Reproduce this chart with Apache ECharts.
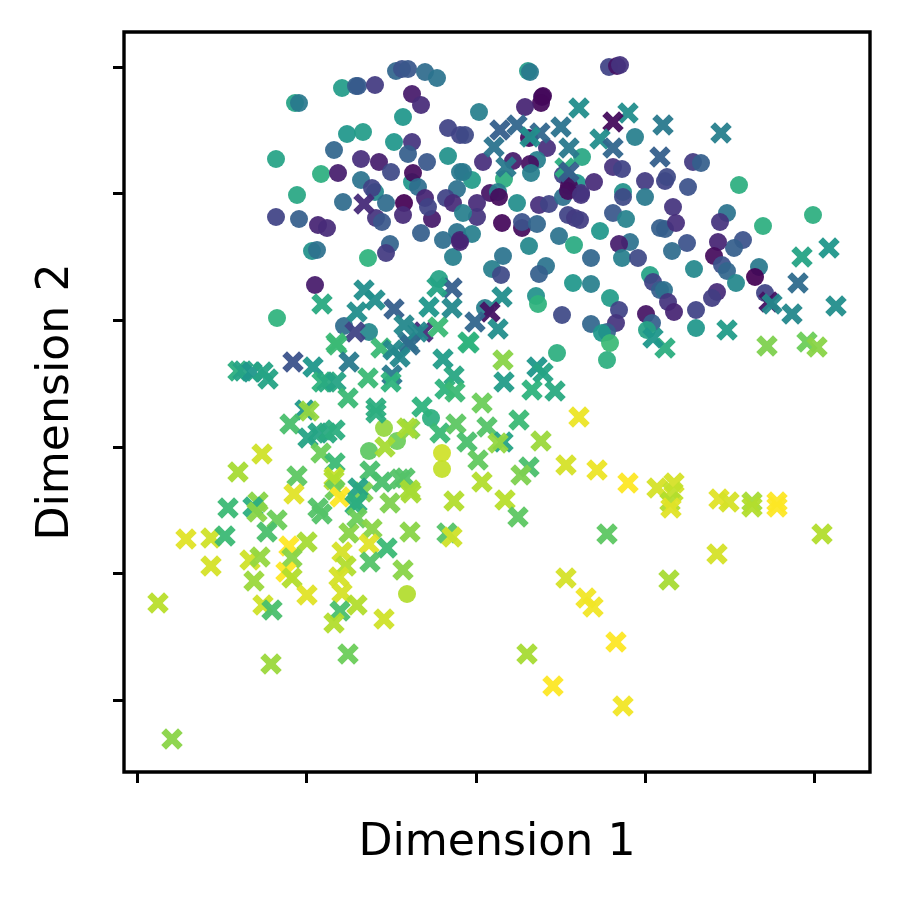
<!DOCTYPE html>
<html><head><meta charset="utf-8">
<script src="https://cdn.jsdelivr.net/npm/echarts@6/dist/echarts.min.js"></script>
<style>html,body{margin:0;background:#fff}#c{width:902px;height:897px}</style></head>
<body><div id="c"></div>
<script>
// each row: dimension 1, dimension 2, colour value (0-1)
const circlePoints = [
[342,712,.52],[356,714,.3],[358,714,.28],[375,715,.17],[396,729,.33],[402,731,.25],[408,731,.27],[425,728,.35],[437,722,.38],
[295,697,.55],[299,697,.4],[412,706,.07],[421,695,.12],[403,683,.5],[448,672,.2],[460,665,.2],[347,666,.5],[363,668,.52],
[394,658,.5],[412,658,.15],[408,646,.3],[334,650,.33],[361,641,.13],[379,638,.08],[427,638,.27],[448,644,.48],[276,641,.55],
[321,626,.6],[338,627,.08],[361,620,.38],[391,628,.22],[412,618,.5],[413,627,.03],[418,613,.36],[375,608,.45],[372,612,.2],
[297,605,.57],[460,628,.4],[457,611,.37],[425,602,.1],[404,597,.0],[446,602,.2],[453,597,.12],[386,597,.35],[343,598,.35],
[276,583,.2],[299,581,.3],[318,575,.1],[327,572,.12],[403,585,.12],[376,582,.15],[382,578,.27],[432,581,.07],[428,593,.2],
[421,567,.3],[312,549,.48],[317,550,.37],[390,556,.32],[386,547,.17],[368,542,.62],[315,515,.07],[277,482,.62],[443,560,.36],
[457,568,.38],[460,560,.1],[453,543,.42],[439,521,.55],[344,474,.35],[369,468,.45],
[528,729,.52],[530,728,.4],[609,733,.2],[617,734,.05],[620,735,.15],[542,703,.08],[543,704,.02],[541,697,.02],[525,693,.1],
[479,688,.42],[465,665,.22],[635,663,.42],[547,652,.13],[537,640,.42],[529,662,.02],[513,639,.07],[530,636,.04],[531,627,.42],
[483,638,.13],[472,620,.52],[463,628,.4],[504,621,.6],[582,643,.57],[563,625,.2],[577,617,.5],[569,614,.03],[594,618,.12],
[581,607,.15],[613,633,.14],[622,631,.2],[645,619,.17],[623,608,.48],[623,603,.22],[645,603,.4],[665,619,.2],
[490,607,.05],[498,608,.42],[499,603,.03],[517,597,.47],[477,597,.12],[477,583,.15],[463,587,.42],[472,566,.42],[460,558,.1],
[502,577,.02],[522,572,.03],[522,578,.25],[537,576,.33],[539,595,.13],[549,596,.2],[563,603,.37],[568,609,.03],[581,605,.15],
[568,585,.2],[575,582,.17],[580,580,.18],[559,564,.38],[529,554,.45],[574,555,.58],[600,569,.5],[591,542,.33],[613,587,.27],
[626,581,.43],[630,558,.37],[619,556,.08],[622,542,.42],[638,542,.22],[660,572,.3],[503,544,.38],[492,531,.42],[501,525,.22],
[546,534,.38],[539,526,.3],[573,517,.5],[591,516,.42],[650,525,.55],[653,518,.2],[660,510,.3],[610,502,.52],[619,490,.2],
[616,477,.15],[591,476,.33],[607,468,.3],[602,467,.5],[610,457,.65],[562,485,.22],[536,504,.48],[538,496,.62],[485,492,.42],
[646,486,.05],[652,477,.3],[647,470,.55],[557,447,.6],
[693,638,.17],[701,637,.3],[667,623,.22],[688,613,.25],[739,615,.6],[673,593,.15],[727,587,.38],[720,578,.15],[665,571,.3],
[676,577,.13],[743,560,.25],[734,552,.3],[718,558,.1],[687,557,.25],[672,549,.35],[714,544,.03],[722,535,.25],[727,529,.33],
[694,531,.45],[763,574,.6],[813,585,.6],[759,533,.4],[755,523,.0],[736,517,.45],[765,507,.2],[717,508,.12],[712,502,.18],
[664,510,.37],[668,498,.15],[674,488,.1],[696,490,.2],[696,472,.5],
[384,372,.82],[369,349,.72],[397,359,.75],[431,382,.6],[442,347,.92],[442,331,.9],[607,440,.6],[407,206,.87]
];
const crossPoints = [
[579,692,.47],[628,687,.47],[613,678,.03],[500,670,.3],[517,675,.33],[540,667,.33],[530,663,.47],[561,673,.38],[494,653,.38],
[569,652,.4],[600,661,.47],[613,652,.33],[660,643,.3],[506,633,.4],[565,632,.6],[569,628,.3],[663,675,.4],[721,667,.42],
[802,543,.55],[829,552,.5],[798,517,.35],[836,494,.47],[769,498,.05],[772,496,.45],[792,486,.45],[727,470,.52],[767,454,.78],
[807,458,.75],[817,453,.8],[665,452,.6],[653,462,.5],
[364,596,.12],[322,496,.58],[364,510,.47],[375,500,.47],[394,491,.3],[357,488,.47],[355,468,.2],[336,457,.65],[381,452,.65],
[404,475,.45],[408,458,.4],[423,468,.12],[418,468,.45],[393,450,.45],[438,473,.65],[429,493,.5],[452,512,.3],[452,492,.45],
[437,513,.55],[502,503,.47],[490,488,.05],[475,478,.33],[498,471,.47],[468,458,.62],
[410,455,.35],[400,443,.45],[469,457,.62],[503,440,.8],[537,433,.5],[543,427,.55],[504,418,.52],[532,410,.62],[555,409,.58],
[443,441,.52],[454,424,.57],[445,411,.62],[455,408,.65],[482,397,.75],[422,393,.62],[440,367,.65],[456,376,.72],[487,373,.7],
[410,371,.8],[467,358,.68],[503,358,.55],[498,357,.82],[519,380,.65],[579,383,.97],[541,359,.83],[478,340,.73],[566,335,.93],
[597,330,.97],[529,333,.68],[521,325,.78],[482,318,.87],[411,307,.85],[405,322,.7],[454,299,.87],[505,300,.88],[518,283,.72],
[410,268,.8],[447,267,.7],[452,263,.92],[607,266,.72],
[628,317,1],[657,312,.93],[674,317,.93],[673,308,.9],[670,298,.87],[671,292,.95],[719,301,.95],[729,298,.93],[752,298,.85],
[752,293,.87],[777,298,1],[777,293,1],[822,266,.87],[717,246,.93],[566,222,.93],[586,202,.98],[593,193,.98],[669,220,.85],
[616,158,1],[527,146,.85],[553,114,1],[623,94,.98],
[238,429,.6],[243,429,.55],[252,428,.5],[263,428,.55],[268,421,.55],[293,438,.25],[313,433,.5],[322,418,.62],[327,418,.58],
[336,418,.55],[348,402,.65],[337,455,.65],[349,438,.4],[368,422,.65],[392,425,.4],[391,418,.62],[376,392,.6],[376,387,.6],
[305,390,.5],[309,389,.82],[290,376,.68],[308,362,.55],[318,367,.55],[327,367,.58],[335,370,.6],[321,347,.75],[335,337,.65],
[262,346,.92],[238,328,.85],[297,324,.72],[294,306,.95],[334,323,.9],[334,320,.87],[335,310,.75],[340,303,1],[228,292,.65],
[258,298,.8],[253,293,.6],[385,353,.85],[370,329,.68],[363,308,.78],[358,312,.55],[382,318,.68],[400,321,.7],[407,372,.85],
[390,297,.78],[410,310,.85],[355,295,.6],[318,292,.7],[357,297,.6],
[257,288,.8],[277,280,.75],[267,268,.68],[186,261,.95],[211,262,.92],[211,234,.93],[225,264,.65],[289,254,1],[307,258,.85],[322,286,.7],
[349,267,.8],[357,282,.75],[372,271,.8],[369,256,.95],[387,252,.65],[370,238,.7],[403,230,.8],[342,248,.93],[346,234,.87],
[339,223,.93],[342,207,.93],[250,240,.92],[260,243,.82],[254,219,.83],[292,242,.8],[286,228,1],[292,222,.87],[307,205,.95],
[357,195,.87],[263,195,.92],[272,190,.68],[340,189,.68],[334,177,.87],[384,181,.92],[158,197,.88],[271,136,.83],[348,146,.75],
[172,61,.8]
];
const xTicks = [137,306.5,476,645.5,814.5];
const yTicks = [100,227,353,480,607,733];
const viridis = ['#440154','#472d7b','#3b528b','#2c728e','#1f978b','#2fb47c','#6ccd5a','#b5de2b','#fde725'];
const crossPath = 'path://M22 0L50 28L78 0L100 22L72 50L100 78L78 100L50 72L22 100L0 78L28 50L0 22Z';
const chart = echarts.init(document.getElementById('c'));
const axisCommon = {
  type:'value', nameLocation:'middle',
  nameTextStyle:{fontFamily:'DejaVu Sans',fontSize:44.2,color:'#000'},
  axisLine:{show:false}, splitLine:{show:false}, axisLabel:{show:false}
};
const tick = v => ({show:true,length:11,inside:false,customValues:v,lineStyle:{color:'#000',width:3}});
chart.setOption({
  animation:false,
  backgroundColor:'#fff',
  grid:{left:124,top:32,width:746,height:740,show:true,borderColor:'#000',borderWidth:3.4,backgroundColor:'transparent'},
  xAxis:Object.assign({},axisCommon,{name:'Dimension 1',nameGap:50,min:124,max:870,axisTick:tick(xTicks)}),
  yAxis:Object.assign({},axisCommon,{name:'Dimension 2',nameGap:45,min:28,max:768,axisTick:tick(yTicks)}),
  visualMap:{show:false,dimension:2,min:0,max:1,seriesIndex:[0,1],inRange:{color:viridis}},
  series:[
    {type:'scatter',data:circlePoints,symbol:'circle',symbolSize:18,itemStyle:{opacity:.93}},
    {type:'scatter',data:crossPoints,symbol:crossPath,symbolSize:21.5,itemStyle:{opacity:.95}}
  ]
});
</script></body></html>
